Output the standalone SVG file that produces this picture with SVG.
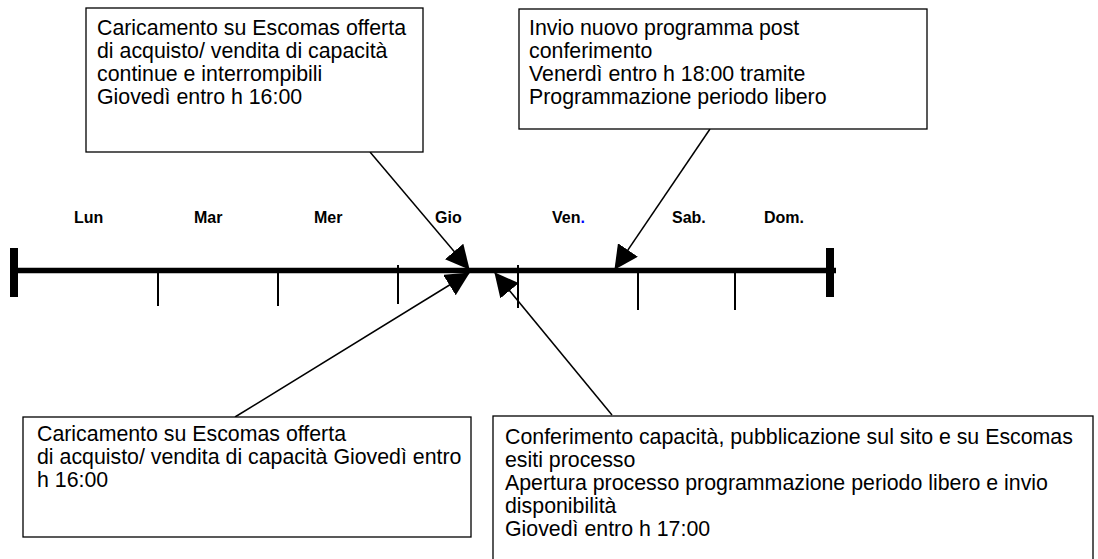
<svg xmlns="http://www.w3.org/2000/svg" width="1098" height="559" viewBox="0 0 1098 559">
<style>
.box{fill:#fff;stroke:#000;stroke-width:1.3}
.t{font-family:"Liberation Sans",Arial,sans-serif;font-size:21.33px;fill:#000}
.d{font-family:"Liberation Sans",Arial,sans-serif;font-size:16px;font-weight:bold;fill:#000}
.tick{stroke:#000;stroke-width:2}
.conn{stroke:#000;stroke-width:1.5;fill:none;marker-end:url(#ah)}
</style>
<defs>
<marker id="ah" viewBox="0 0 24 24" refX="23" refY="12" markerWidth="24" markerHeight="24" markerUnits="userSpaceOnUse" orient="auto">
<path d="M0,0 L24,12 L0,24 z" fill="#000"/>
</marker>
</defs>
<rect width="1098" height="559" fill="#fff"/>
<g id="timeline">
<line x1="18" y1="270.5" x2="836" y2="270.5" stroke="#000" stroke-width="5.5"/>
<rect x="10" y="248" width="8" height="49" fill="#000"/>
<rect x="826" y="248" width="8" height="49" fill="#000"/>
<line class="tick" x1="158" y1="272" x2="158" y2="306"/>
<line class="tick" x1="278" y1="272" x2="278" y2="306"/>
<line class="tick" x1="398" y1="265" x2="398" y2="304"/>
<line class="tick" x1="518" y1="265" x2="518" y2="308"/>
<line class="tick" x1="638" y1="272" x2="638" y2="310"/>
<line class="tick" x1="735" y1="272" x2="735" y2="310"/>
<text class="d" x="74" y="223">Lun</text>
<text class="d" x="194" y="223">Mar</text>
<text class="d" x="314" y="223">Mer</text>
<text class="d" x="435" y="223">Gio</text>
<text class="d" x="552" y="223">Ven<tspan fill="#00f">.</tspan></text>
<text class="d" x="672" y="223">Sab.</text>
<text class="d" x="764" y="223">Dom.</text>
</g>
<g id="connectors">
<line class="conn" x1="370" y1="152" x2="469" y2="269"/>
<line class="conn" x1="710" y1="129" x2="615" y2="269"/>
<line class="conn" x1="235" y1="417" x2="469" y2="273"/>
<line class="conn" x1="612" y1="415" x2="495" y2="273"/>
</g>
<g id="box-top-left">
<rect class="box" x="86" y="8" width="337" height="144"/>
<text class="t" x="97" y="35">Caricamento su Escomas offerta</text>
<text class="t" x="97" y="58">di acquisto/ vendita di capacità</text>
<text class="t" x="97" y="81">continue e interrompibili</text>
<text class="t" x="97" y="104">Giovedì entro h 16:00</text>
</g>
<g id="box-top-right">
<rect class="box" x="519" y="9" width="408" height="120"/>
<text class="t" x="529" y="35">Invio nuovo programma post</text>
<text class="t" x="529" y="58">conferimento</text>
<text class="t" x="529" y="81">Venerdì entro h 18:00 tramite</text>
<text class="t" x="529" y="104">Programmazione periodo libero</text>
</g>
<g id="box-bottom-left">
<rect class="box" x="23" y="417" width="448" height="120"/>
<text class="t" x="37" y="441">Caricamento su Escomas offerta</text>
<text class="t" x="37" y="464">di acquisto/ vendita di capacità Giovedì entro</text>
<text class="t" x="37" y="487">h 16:00</text>
</g>
<g id="box-bottom-right">
<rect class="box" x="493" y="416" width="600" height="160"/>
<text class="t" x="505" y="444">Conferimento capacità, pubblicazione sul sito e su Escomas</text>
<text class="t" x="505" y="467">esiti processo</text>
<text class="t" x="505" y="490">Apertura processo programmazione periodo libero e invio</text>
<text class="t" x="505" y="513">disponibilità</text>
<text class="t" x="505" y="536">Giovedì entro h 17:00</text>
</g>
</svg>
